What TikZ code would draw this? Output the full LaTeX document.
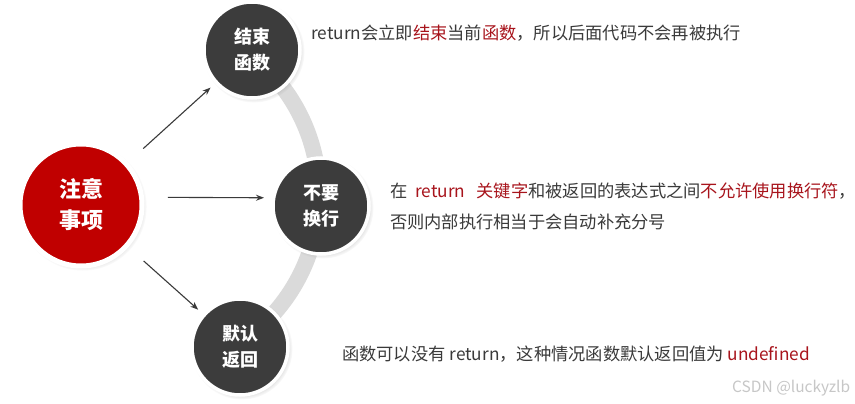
\documentclass[tikz,border=0pt]{standalone}
\usepackage{fontspec}
\setmainfont{Noto Sans CJK SC}
\usetikzlibrary{arrows.meta, shadows}
\definecolor{notered}{HTML}{C00000}
\definecolor{hl}{HTML}{A8141C}
\definecolor{darkdot}{HTML}{3C3C3C}
\definecolor{bodytext}{HTML}{3A3A3A}
\definecolor{ringgray}{HTML}{DADADA}
\tikzset{
  bigdot/.style={circle, fill=darkdot, draw=white, line width=3.5pt, minimum size=96pt,
    inner sep=0pt, align=center, text=white, font=\fontsize{18}{26}\selectfont\bfseries,
    circular drop shadow={shadow scale=1.06, opacity=0.35}},
  tipline/.style={-{Stealth[length=8pt,width=6pt]}, bodytext, line width=1.1pt},
  say/.style={anchor=west, text=bodytext, inner sep=0pt, font=\fontsize{17.25}{20}\selectfont}
}

\begin{document}
\begin{tikzpicture}[x=1pt, y=-1pt]
\useasboundingbox (0,0) rectangle (855,404);
\fill[white] (0,0) rectangle (855,404);

% gray ring behind the three points
\draw[ringgray, line width=16pt] (141,195) ++(-56:178) arc[start angle=-56, end angle=60, radius=178];

% centre circle
\node[circle, fill=notered, draw=white, line width=5pt, minimum size=122pt, inner sep=0pt,
  align=center, text=white, font=\fontsize{22}{31}\selectfont\bfseries,
  circular drop shadow={shadow scale=1.05, opacity=0.35}] (zy) at (81,205) {注意\\事项};

% the three points
\node[bigdot] (js) at (252,50) {结束\\函数};
\node[bigdot] (bh) at (321,206) {不要\\换行};
\node[bigdot] (mr) at (240,347) {默认\\返回};

% arrows out of the centre
\draw[tipline, shorten <=84pt, shorten >=56pt] (zy.center) -- (js.center);
\draw[tipline, shorten <=87pt, shorten >=57pt] ([yshift=8pt]zy.center) -- ([yshift=8pt]bh.center);
\draw[tipline, shorten <=84pt, shorten >=56pt] (zy.center) -- (mr.center);

% texts
\node[say] (t1) at (311,33) {return会立即\textcolor{hl}{结束}当前\textcolor{hl}{函数}，所以后面代码不会再被执行};
\node[say] (t2) at (390,191) {在\hspace{8pt}\textcolor{hl}{return}\hspace{11pt}\textcolor{hl}{关键字}和被返回的表达式之间\textcolor{hl}{不允许使用换行符}，};
\node[say] (t3) at (390,222) {否则内部执行相当于会自动补充分号};
\node[say] (t4) at (342,354) {函数可以没有 return，这种情况函数默认返回值为 \textcolor{hl}{undefined}};
\node[anchor=west, text=black!22, inner sep=0pt, font=\fontsize{15.5}{18}\selectfont] (wm) at (732,388) {CSDN @luckyzlb};
\end{tikzpicture}
\end{document}
